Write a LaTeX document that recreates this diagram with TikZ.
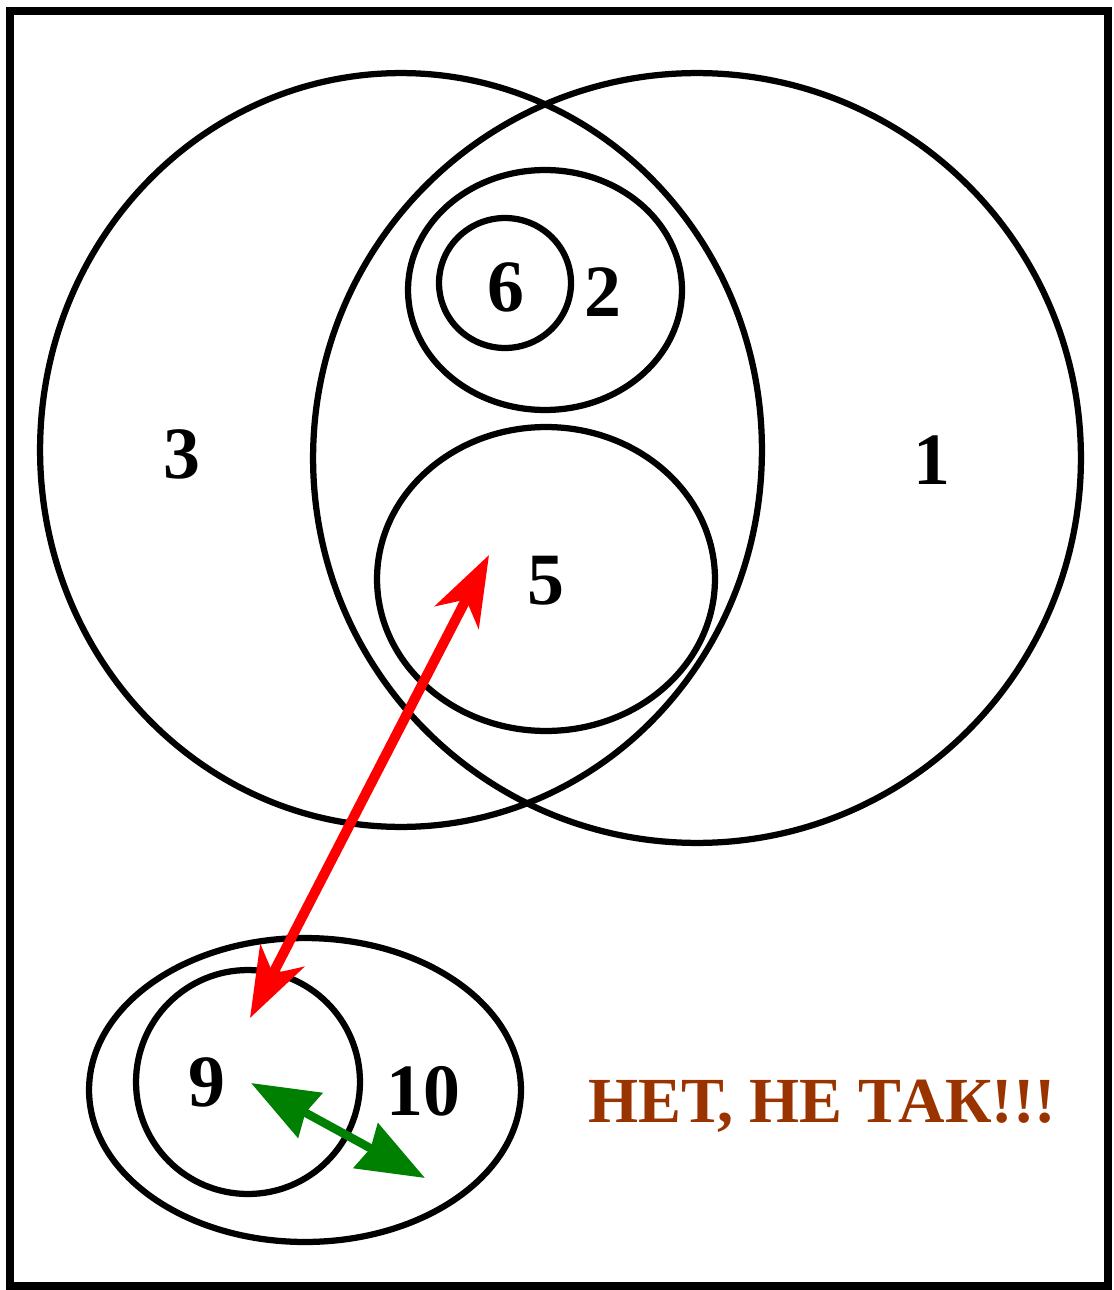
\documentclass[tikz,border=0pt]{standalone}
\usepackage{fontspec}
\setmainfont{Liberation Serif}
\usetikzlibrary{arrows.meta,shapes.geometric}
\definecolor{nettxt}{HTML}{993300}
\definecolor{redarr}{HTML}{FF0000}
\definecolor{greenarr}{HTML}{008000}
\begin{document}
\begin{tikzpicture}[x=0.02cm,y=-0.02cm,
  setshape/.style={draw, ellipse, line width=0.125cm, inner sep=0pt, outer sep=0pt},
  lbl/.style={inner sep=0pt, font=\fontsize{42pt}{44pt}\selectfont\bfseries},
  redarrow/.style={draw=redarr, line width=0.2cm,
    {Stealth[length=1.4cm, width=0.98cm, inset=0.4cm]}-{Stealth[length=1.4cm, width=0.98cm, inset=0.4cm]}},
  greenarrow/.style={draw=greenarr, line width=0.17cm,
    {Stealth[length=1.34cm, width=1.0cm, inset=0.1cm]}-{Stealth[length=1.34cm, width=1.0cm, inset=0.1cm]}}
]
\useasboundingbox (0,0) rectangle (1114,1290);
\draw[line width=0.17cm] (10,11) rectangle (1108,1286);

\node[setshape, minimum width=14.44cm, minimum height=15.08cm] (s3) at (401,450) {};
\node[setshape, minimum width=15.36cm, minimum height=15.4cm] (s1) at (697,458) {};
\node[setshape, minimum width=5.48cm, minimum height=4.8cm] (s2) at (545,290) {};
\node[setshape, minimum width=2.64cm, minimum height=2.6cm] (s6) at (505,283) {};
\node[setshape, minimum width=6.76cm, minimum height=6.08cm] (s5) at (546,579) {};
\node[setshape, minimum width=8.64cm, minimum height=6.08cm] (s10) at (305,1090) {};
\node[setshape, minimum width=4.48cm, minimum height=4.48cm] (s9) at (248,1082) {};

\node[lbl] (l6) at (506,287) {6};
\node[lbl] (l2) at (603,292) {2};
\node[lbl] (l3) at (182,454) {3};
\node[lbl] (l1) at (932,460) {1};
\node[lbl] (l5) at (546,581) {5};
\node[lbl] (l9) at (207,1082) {9};
\node[lbl] (l10) at (423,1091) {10};
\node[lbl, text=nettxt, anchor=base west, font=\fontsize{36.6pt}{40pt}\selectfont\bfseries] (net) at (588,1122) {НЕТ, НЕ ТАК!!!};

\coordinate (ra) at (250,1018);
\coordinate (rb) at (489,555);
\coordinate (ga) at (251,1083);
\coordinate (gb) at (425,1178);
\draw[redarrow] (ra) -- (rb);
\draw[greenarrow] (ga) -- (gb);
\end{tikzpicture}
\end{document}
